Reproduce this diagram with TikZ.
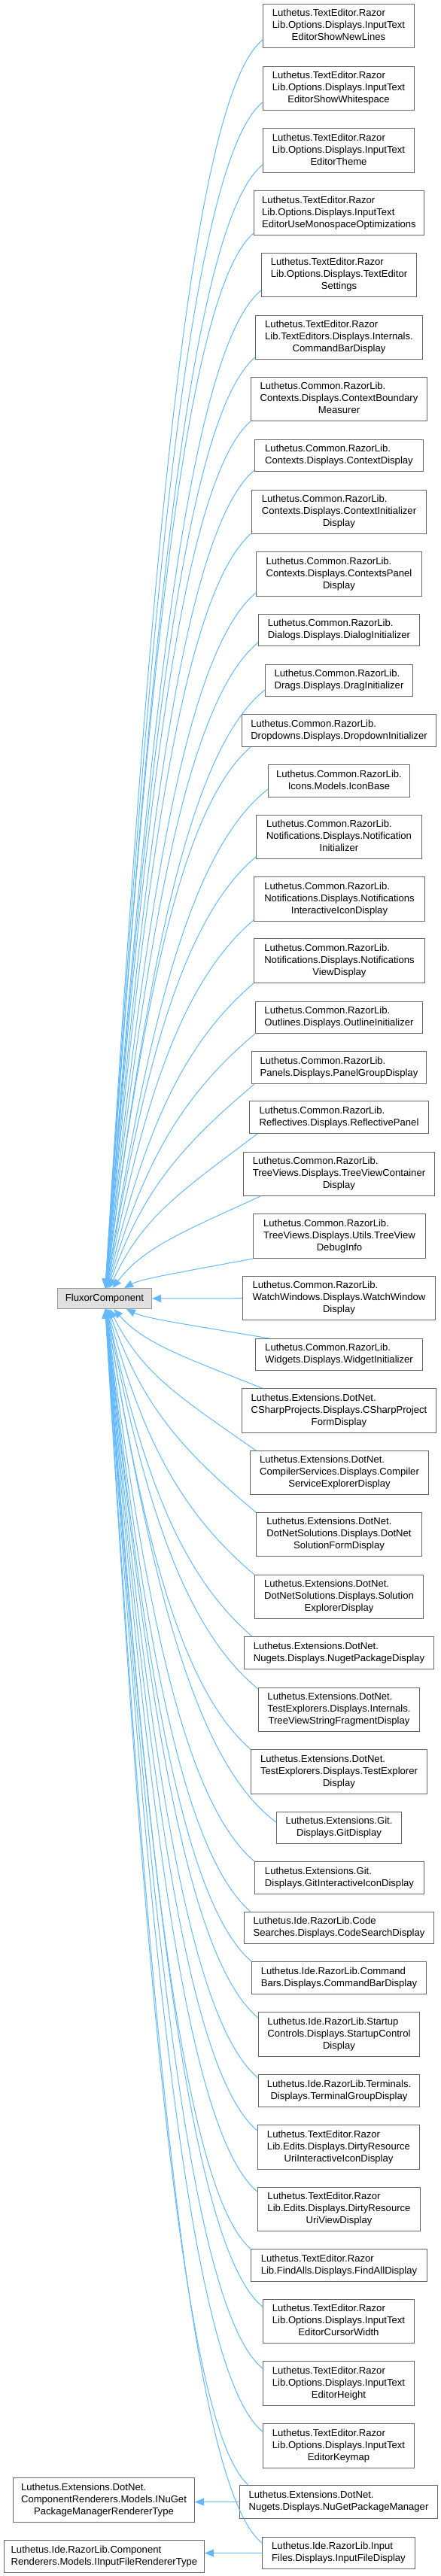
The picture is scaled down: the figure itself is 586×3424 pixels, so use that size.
\documentclass[tikz,border=0pt]{standalone}
\usepackage{fontspec}
\setmainfont{Liberation Sans}
\usetikzlibrary{arrows.meta,calc}
\definecolor{edgeblue}{HTML}{63B8FF}
\definecolor{boxborder}{HTML}{666666}
\definecolor{curfill}{HTML}{E0E0E0}
\definecolor{curborder}{HTML}{999999}
\newcommand\tlines[3]{\begin{tabular}{@{}l@{}}#1\\#2\\\multicolumn{1}{@{}c@{}}{#3}\end{tabular}}
\newcommand\twolines[2]{\begin{tabular}{@{}l@{}}#1\\\multicolumn{1}{@{}c@{}}{#2}\end{tabular}}
\newcommand\LTE{Luthetus.TextEditor.Razor}
\newcommand\LCR{Luthetus.Common.RazorLib.}
\newcommand\LED{Luthetus.Extensions.DotNet.}
\newcommand\LOD{Lib.Options.Displays.InputText}
\tikzset{
  cls/.style={draw=boxborder, fill=white, line width=1pt, inner sep=0pt, anchor=north west,
    font=\fontsize{13.1pt}{16pt}\selectfont, text=black},
  cur/.style={cls, draw=curborder, fill=curfill},
  inh/.style={draw=edgeblue, line width=1pt, {Triangle[length=12pt,width=10pt]}-},
}
% edge from a box above FluxorComponent
\newcommand\tedge[1]{\draw[inh] let \p1=(#1), \p2=(F.center) in
  (F) .. controls ({0.75*(\x2)+0.25*(\x1)},{0.5*(\y2)+0.5*(\y1)})
  and ({0.5*(\x1)+0.5*(\x2)},{(\y1)-min(0.35*((\y1)-(\y2)),84)}) .. (\p1);}
% edge from a box below FluxorComponent
\newcommand\bedge[1]{\draw[inh] let \p1=(#1), \p2=(F.center) in
  (F) .. controls ({0.75*(\x2)+0.25*(\x1)},{0.5*(\y2)+0.5*(\y1)})
  and ({0.5*(\x1)+0.5*(\x2)},{(\y1)+min(0.35*((\y2)-(\y1)),84)}) .. (\p1);}
\begin{document}
\begin{tikzpicture}[x=1pt,y=1pt]
\useasboundingbox (0,0) rectangle (586,-3424);

\node[cur, minimum width=125pt, minimum height=27pt] (F) at (76,-1712) {FluxorComponent};

\node[cls, minimum width=201pt, minimum height=58pt] (n1) at (349,-5) {\tlines{\LTE}{\LOD}{EditorShowNewLines}};
\node[cls, minimum width=201pt, minimum height=58pt] (n2) at (349,-88) {\tlines{\LTE}{\LOD}{EditorShowWhitespace}};
\node[cls, minimum width=201pt, minimum height=59pt] (n3) at (349,-170) {\tlines{\LTE}{\LOD}{EditorTheme}};
\node[cls, minimum width=226pt, minimum height=59pt] (n4) at (337,-253) {\tlines{\LTE}{\LOD}{EditorUseMonospaceOptimizations}};
\node[cls, minimum width=206pt, minimum height=58pt] (n5) at (347,-336) {\tlines{\LTE}{Lib.Options.Displays.TextEditor}{Settings}};
\node[cls, minimum width=222pt, minimum height=58pt] (n6) at (339,-419) {\tlines{\LTE}{Lib.TextEditors.Displays.Internals.}{CommandBarDisplay}};
\node[cls, minimum width=234pt, minimum height=58pt] (n7) at (333,-501) {\tlines{\LCR}{Contexts.Displays.ContextBoundary}{Measurer}};
\node[cls, minimum width=224pt, minimum height=42pt] (n8) at (338,-584) {\twolines{\LCR}{Contexts.Displays.ContextDisplay}};
\node[cls, minimum width=232pt, minimum height=58pt] (n9) at (334,-651) {\tlines{\LCR}{Contexts.Displays.ContextInitializer}{Display}};
\node[cls, minimum width=220pt, minimum height=59pt] (n10) at (340,-733) {\tlines{\LCR}{Contexts.Displays.ContextsPanel}{Display}};
\node[cls, minimum width=214pt, minimum height=42pt] (n11) at (343,-816) {\twolines{\LCR}{Dialogs.Displays.DialogInitializer}};
\node[cls, minimum width=196pt, minimum height=42pt] (n12) at (352,-883) {\twolines{\LCR}{Drags.Displays.DragInitializer}};
\node[cls, minimum width=258pt, minimum height=43pt] (n13) at (321,-949) {\twolines{\LCR}{Dropdowns.Displays.DropdownInitializer}};
\node[cls, minimum width=188pt, minimum height=43pt] (n14) at (356,-1016) {\twolines{\LCR}{Icons.Models.IconBase}};
\node[cls, minimum width=220pt, minimum height=58pt] (n15) at (340,-1083) {\tlines{\LCR}{Notifications.Displays.Notification}{Initializer}};
\node[cls, minimum width=227pt, minimum height=59pt] (n16) at (337,-1165) {\tlines{\LCR}{Notifications.Displays.Notifications}{InteractiveIconDisplay}};
\node[cls, minimum width=227pt, minimum height=59pt] (n17) at (337,-1247) {\tlines{\LCR}{Notifications.Displays.Notifications}{ViewDisplay}};
\node[cls, minimum width=222pt, minimum height=42pt] (n18) at (339,-1331) {\twolines{\LCR}{Outlines.Displays.OutlineInitializer}};
\node[cls, minimum width=232pt, minimum height=43pt] (n19) at (334,-1397) {\twolines{\LCR}{Panels.Displays.PanelGroupDisplay}};
\node[cls, minimum width=238pt, minimum height=43pt] (n20) at (331,-1463) {\twolines{\LCR}{Reflectives.Displays.ReflectivePanel}};
\node[cls, minimum width=254pt, minimum height=58pt] (n21) at (323,-1531) {\tlines{\LCR}{TreeViews.Displays.TreeViewContainer}{Display}};
\node[cls, minimum width=229pt, minimum height=59pt] (n22) at (336,-1613) {\tlines{\LCR}{TreeViews.Displays.Utils.TreeView}{DebugInfo}};
\node[cls, minimum width=256pt, minimum height=58pt] (n23) at (322,-1696) {\tlines{\LCR}{WatchWindows.Displays.WatchWindow}{Display}};
\node[cls, minimum width=222pt, minimum height=42pt] (n24) at (339,-1779) {\twolines{\LCR}{Widgets.Displays.WidgetInitializer}};
\node[cls, minimum width=258pt, minimum height=59pt] (n25) at (321,-1845) {\tlines{\LED}{CSharpProjects.Displays.CSharpProject}{FormDisplay}};
\node[cls, minimum width=237pt, minimum height=58pt] (n26) at (332,-1928) {\tlines{\LED}{CompilerServices.Displays.Compiler}{ServiceExplorerDisplay}};
\node[cls, minimum width=220pt, minimum height=58pt] (n27) at (340,-2010) {\tlines{\LED}{DotNetSolutions.Displays.DotNet}{SolutionFormDisplay}};
\node[cls, minimum width=224pt, minimum height=58pt] (n28) at (338,-2093) {\tlines{\LED}{DotNetSolutions.Displays.Solution}{ExplorerDisplay}};
\node[cls, minimum width=252pt, minimum height=43pt] (n29) at (324,-2175) {\twolines{\LED}{Nugets.Displays.NugetPackageDisplay}};
\node[cls, minimum width=214pt, minimum height=58pt] (n30) at (343,-2243) {\tlines{\LED}{TestExplorers.Displays.Internals.}{TreeViewStringFragmentDisplay}};
\node[cls, minimum width=234pt, minimum height=59pt] (n31) at (333,-2325) {\tlines{\LED}{TestExplorers.Displays.TestExplorer}{Display}};
\node[cls, minimum width=166pt, minimum height=42pt] (n32) at (367,-2408) {\twolines{Luthetus.Extensions.Git.}{Displays.GitDisplay}};
\node[cls, minimum width=225pt, minimum height=43pt] (n33) at (338,-2474) {\twolines{Luthetus.Extensions.Git.}{Displays.GitInteractiveIconDisplay}};
\node[cls, minimum width=252pt, minimum height=42pt] (n34) at (324,-2541) {\twolines{Luthetus.Ide.RazorLib.Code}{Searches.Displays.CodeSearchDisplay}};
\node[cls, minimum width=232pt, minimum height=43pt] (n35) at (334,-2607) {\twolines{Luthetus.Ide.RazorLib.Command}{Bars.Displays.CommandBarDisplay}};
\node[cls, minimum width=214pt, minimum height=59pt] (n36) at (343,-2674) {\tlines{Luthetus.Ide.RazorLib.Startup}{Controls.Displays.StartupControl}{Display}};
\node[cls, minimum width=214pt, minimum height=43pt] (n37) at (343,-2757) {\twolines{Luthetus.Ide.RazorLib.Terminals.}{Displays.TerminalGroupDisplay}};
\node[cls, minimum width=215pt, minimum height=59pt] (n38) at (342,-2824) {\tlines{\LTE}{Lib.Edits.Displays.DirtyResource}{UriInteractiveIconDisplay}};
\node[cls, minimum width=216pt, minimum height=58pt] (n39) at (342,-2907) {\tlines{\LTE}{Lib.Edits.Displays.DirtyResource}{UriViewDisplay}};
\node[cls, minimum width=234pt, minimum height=43pt] (n40) at (333,-2989) {\twolines{\LTE}{Lib.FindAlls.Displays.FindAllDisplay}};
\node[cls, minimum width=201pt, minimum height=58pt] (n41) at (349,-3056) {\tlines{\LTE}{\LOD}{EditorCursorWidth}};
\node[cls, minimum width=201pt, minimum height=59pt] (n42) at (349,-3138) {\tlines{\LTE}{\LOD}{EditorHeight}};
\node[cls, minimum width=201pt, minimum height=59pt] (n43) at (349,-3221) {\tlines{\LTE}{\LOD}{EditorKeymap}};
\node[cls, minimum width=263pt, minimum height=44pt] (n44) at (318,-3303) {\twolines{\LED}{Nugets.Displays.NuGetPackageManager}};
\node[cls, minimum width=203pt, minimum height=42pt] (n45) at (348,-3372) {\twolines{Luthetus.Ide.RazorLib.Input}{Files.Displays.InputFileDisplay}};
\node[cls, minimum width=241pt, minimum height=59pt] (L1) at (17,-3293) {\tlines{\LED}{ComponentRenderers.Models.INuGet}{PackageManagerRendererType}};
\node[cls, minimum width=266pt, minimum height=43pt] (L2) at (5,-3376) {\twolines{Luthetus.Ide.RazorLib.Component}{Renderers.Models.IInputFileRendererType}};

% edges from boxes above
\tedge{$(n1.south west)+(0,11)$}
\tedge{$(n2.south west)+(0,11)$}
\tedge{$(n3.south west)+(0,11)$}
\tedge{$(n4.south west)+(0,3)$}
\tedge{$(n5.south west)+(0,9)$}
\tedge{$(n6.south west)+(0,3)$}
\tedge{n7.south west}
\tedge{$(n8.south west)+(0,2)$}
\tedge{$(n9.south west)+(0,1)$}
\tedge{$(n10.south west)+(0,5)$}
\tedge{$(n11.south west)+(0,5)$}
\tedge{$(n12.south west)+(0,9)$}
\tedge{$(n13.south west)+(12,0)$}
\tedge{$(n14.south west)+(0,11)$}
\tedge{$(n15.south west)+(0,3)$}
\tedge{$(n16.south west)+(0,2)$}
\tedge{n17.south west}
\tedge{n18.south west}
\tedge{$(n19.south west)+(4,0)$}
\tedge{$(n20.south west)+(11,0)$}
\tedge{$(n21.south west)+(23,0)$}
\tedge{n22.south west}
\draw[inh] (F) -- (n23);
% edges from boxes below
\bedge{$(n24.north west)+(19,0)$}
\bedge{$(n25.north west)+(27,0)$}
\bedge{$(n26.north west)+(8,0)$}
\bedge{n27.north west}
\bedge{n28.north west}
\bedge{$(n29.north west)+(11,0)$}
\bedge{$(n30.north west)+(0,-2)$}
\bedge{n31.north west}
\bedge{$(n32.north west)+(0,-14)$}
\bedge{n33.north west}
\bedge{$(n34.north west)+(9,0)$}
\bedge{n35.north west}
\bedge{$(n36.north west)+(0,-8)$}
\bedge{$(n37.north west)+(0,-5)$}
\bedge{$(n38.north west)+(0,-8)$}
\bedge{$(n39.north west)+(0,-6)$}
\bedge{n40.north west}
\bedge{$(n41.north west)+(0,-10)$}
\bedge{$(n42.north west)+(0,-10)$}
\bedge{$(n43.north west)+(0,-11)$}
\bedge{$(n44.north west)+(12,0)$}
\bedge{$(n45.north west)+(0,-8)$}
% interface edges
\draw[inh] (L1.east |- n44.west) -- (n44.west);
\draw[inh] (L2.east |- n45.west) -- (n45.west);
\end{tikzpicture}
\end{document}
